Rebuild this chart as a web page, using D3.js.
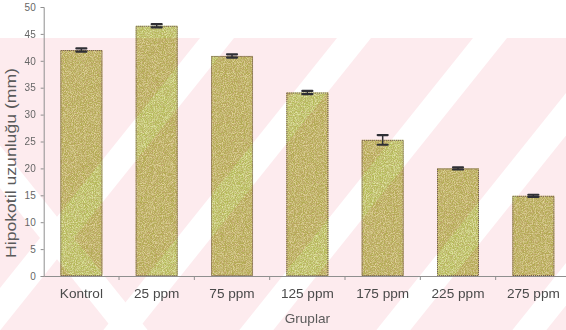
<!DOCTYPE html>
<html>
<head>
<meta charset="utf-8">
<script src="https://cdn.jsdelivr.net/npm/d3@7"></script>
<style>
  html, body { margin: 0; padding: 0; background: #fff; }
  svg { display: block; }
  text { font-family: "Liberation Sans", Arial, sans-serif; }
</style>
</head>
<body>
<svg id="chart" width="566" height="330"></svg>
<script>
// Hypocotyl length by treatment group
const categories = ["Kontrol", "25 ppm", "75 ppm", "125 ppm", "175 ppm", "225 ppm", "275 ppm"];
const values = [42.0, 46.5, 40.9, 34.1, 25.3, 20.0, 14.9];
const errors = [0.3, 0.3, 0.3, 0.3, 0.9, 0.2, 0.2];
const yTicks = [0, 5, 10, 15, 20, 25, 30, 35, 40, 45, 50];
const yTitle = "Hipokotil uzunluğu (mm)";
const xTitle = "Gruplar";

const W = 566, H = 330;
const svg = d3.select("#chart");
const defs = svg.append("defs");

// speckled fill for the bars: dark and light grain over the base colour
const f = defs.append("filter").attr("id", "grain")
  .attr("x", 0).attr("y", 0).attr("width", "100%").attr("height", "100%");
f.append("feTurbulence").attr("type", "fractalNoise").attr("baseFrequency", 1.1)
  .attr("numOctaves", 2).attr("seed", 7).attr("result", "n");
f.append("feColorMatrix").attr("in", "n").attr("type", "matrix")
  .attr("values", "0 0 0 0 0.55  0 0 0 0 0.42  0 0 0 0 0.18  2.4 0 0 0 -0.95")
  .attr("result", "dark");
f.append("feColorMatrix").attr("in", "n").attr("type", "matrix")
  .attr("values", "0 0 0 0 0.78  0 0 0 0 0.81  0 0 0 0 0.40  0 2.4 0 0 -0.95")
  .attr("result", "light");
f.append("feComposite").attr("in", "dark").attr("in2", "SourceGraphic")
  .attr("operator", "in").attr("result", "d2");
f.append("feComposite").attr("in", "light").attr("in2", "SourceGraphic")
  .attr("operator", "in").attr("result", "l2");
const fm = f.append("feMerge");
fm.append("feMergeNode").attr("in", "SourceGraphic");
fm.append("feMergeNode").attr("in", "d2");
fm.append("feMergeNode").attr("in", "l2");

// background diagonal band decoration
const bg = svg.append("g");
const bandTop = 38, slope = 0.8, gap = 34;
bg.append("rect").attr("x", 0).attr("y", bandTop).attr("width", W).attr("height", H - bandTop)
  .attr("fill", "#fdebee");
const fwd = [200, 337, 473, 610, 746];
const back = [-120];
const dy = H - bandTop;
bg.selectAll("polygon.f").data(fwd).join("polygon").attr("class", "f")
  .attr("fill", "#fff")
  .attr("points", d => [[d, bandTop], [d + gap, bandTop], [d + gap - slope * dy, H], [d - slope * dy, H]].join(" "));
bg.selectAll("polygon.b").data(back).join("polygon").attr("class", "b")
  .attr("fill", "#fff")
  .attr("points", d => [[d, bandTop], [d + gap, bandTop], [d + gap + slope * dy, H], [d + slope * dy, H]].join(" "));

// scales
const x0 = 43.7, x1 = 571, yBase = 276, yTop = 7;
const x = d3.scaleBand().domain(categories).range([x0, x1])
  .paddingInner(0.4425).paddingOuter(0.4425 / 2);
const y = d3.scaleLinear().domain([0, 50]).range([yBase, yTop]);
const step = x.step();

// bars
const bars = svg.append("g").style("mix-blend-mode", "multiply");
bars.selectAll("rect.b").data(categories).join("rect").attr("class", "b")
  .attr("x", d => x(d))
  .attr("y", (d, i) => y(values[i]))
  .attr("width", x.bandwidth())
  .attr("height", (d, i) => y(0) - y(values[i]))
  .attr("fill", "#b4bb55")
  .attr("filter", "url(#grain)");
bars.selectAll("rect.o").data(categories).join("rect").attr("class", "o")
  .attr("x", d => x(d) + 0.5)
  .attr("y", (d, i) => y(values[i]) + 0.5)
  .attr("width", x.bandwidth() - 1)
  .attr("height", (d, i) => y(0) - y(values[i]) - 1)
  .attr("fill", "none")
  .attr("stroke", "#6f5a5a")
  .attr("stroke-width", 1)
  .attr("stroke-dasharray", "1,1");

// error bars
const eb = svg.append("g").attr("stroke", "#2f2f35").attr("fill", "none");
categories.forEach((c, i) => {
  const cx = x(c) + x.bandwidth() / 2;
  const hi = y(values[i] + errors[i]), lo = y(values[i] - errors[i]);
  eb.append("line").attr("x1", cx).attr("x2", cx).attr("y1", hi).attr("y2", lo).attr("stroke-width", 1.5);
  [hi, lo].forEach(yy => eb.append("line").attr("x1", cx - 5).attr("x2", cx + 5)
    .attr("y1", yy).attr("y2", yy).attr("stroke-width", 2.2).attr("stroke-linecap", "round"));
});

// y axis
const ya = svg.append("g").attr("transform", `translate(${x0},0)`)
  .call(d3.axisLeft(y).tickValues(yTicks).tickSize(3).tickPadding(5));
ya.select(".domain").attr("stroke", "#8f8f8f");
ya.selectAll(".tick line").attr("stroke", "#8f8f8f");
ya.selectAll(".tick text").attr("fill", "#666").style("font-size", "10px")
  .style("font-family", "'Liberation Sans', Arial, sans-serif");

// x axis: labels under bars, ticks on band boundaries
const xa = svg.append("g").attr("transform", `translate(0,${yBase})`)
  .call(d3.axisBottom(x).tickSize(0).tickPadding(12));
xa.select(".domain").attr("stroke", "#8f8f8f");
xa.selectAll(".tick text").attr("fill", "#4a4a4a").style("font-size", "13.6px")
  .style("font-family", "'Liberation Sans', Arial, sans-serif");
svg.append("g").selectAll("line").data(categories).join("line")
  .attr("x1", d => x(d) + x.bandwidth() / 2 + step / 2)
  .attr("x2", d => x(d) + x.bandwidth() / 2 + step / 2)
  .attr("y1", yBase).attr("y2", yBase + 4)
  .attr("stroke", "#8f8f8f");

// axis titles
svg.append("text").text(xTitle)
  .attr("x", (x0 + x1) / 2).attr("y", 323).attr("text-anchor", "middle")
  .attr("fill", "#5a5a5a").style("font-size", "13.6px");
svg.append("text").text(yTitle)
  .attr("transform", `translate(16,${(68 + 258) / 2}) rotate(-90)`)
  .attr("text-anchor", "middle")
  .attr("textLength", 190).attr("lengthAdjust", "spacingAndGlyphs")
  .attr("fill", "#5a5a5a").style("font-size", "14px");
</script>
</body>
</html>
